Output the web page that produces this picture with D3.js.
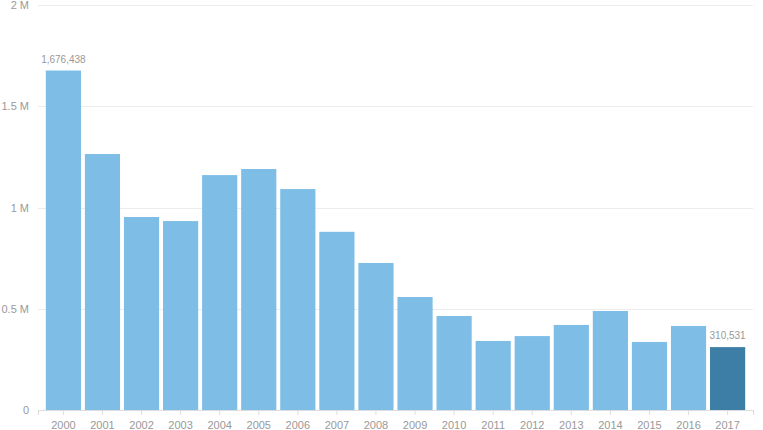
<!DOCTYPE html>
<html><head><meta charset="utf-8">
<script src="https://cdn.jsdelivr.net/npm/d3@7"></script>
<style>body{margin:0;background:#fff;font-family:"Liberation Sans",Arial,sans-serif}</style>
</head><body><svg id="c" width="763" height="430"></svg>
<script>
const years = ["2000","2001","2002","2003","2004","2005","2006","2007","2008","2009","2010","2011","2012","2013","2014","2015","2016","2017"];
const values = [1676438,1264000,953000,933000,1160000,1190000,1091000,880000,726000,558000,464000,341000,365000,420000,489000,336000,415000,310531];
const yTicks = [0,500000,1000000,1500000,2000000];
const yTickLabels = ["0","0.5 M","1 M","1.5 M","2 M"];
const labeled = ["2000","2017"];

const svg = d3.select("#c");
const x = d3.scaleBand().domain(years).range([38,753]).paddingInner(0.1).paddingOuter(0.2);
const y = d3.scaleLinear().domain([0,2000000]).range([410,5]);

svg.append("g").selectAll("line").data(yTicks.slice(1)).join("line")
  .attr("x1",38).attr("x2",753).attr("y1",d=>Math.round(y(d))+0.5).attr("y2",d=>Math.round(y(d))+0.5)
  .attr("stroke","#ececec").attr("stroke-width",1);

svg.append("g").selectAll("text").data(yTicks).join("text")
  .attr("x",29).attr("y",d=>y(d)+4).attr("text-anchor","end")
  .attr("font-size",11).attr("fill","#999").text((d,i)=>yTickLabels[i]);

svg.append("g").selectAll("rect").data(years).join("rect")
  .attr("x",d=>x(d)).attr("width",x.bandwidth())
  .attr("y",(d,i)=>y(values[i])).attr("height",(d,i)=>y(0)-y(values[i]))
  .attr("fill",(d,i)=>i===years.length-1?"#3d7ea6":"#7dbde6");

const ax = svg.append("g").attr("transform","translate(0,410)")
  .call(d3.axisBottom(x).tickSizeOuter(6).tickSize(5).tickPadding(6));
ax.select(".domain").attr("stroke","#ddd");
ax.selectAll(".tick line").attr("stroke","#ddd");
ax.selectAll(".tick text").attr("fill","#999").attr("font-size",11).attr("font-family","Liberation Sans,Arial,sans-serif");

svg.append("g").selectAll("text").data(labeled).join("text")
  .attr("x",d=>x(d)+x.bandwidth()/2)
  .attr("y",d=>y(values[years.indexOf(d)])-8)
  .attr("text-anchor","middle").attr("font-size",10).attr("fill","#999")
  .text(d=>d3.format(",")(values[years.indexOf(d)]));
</script></body></html>
